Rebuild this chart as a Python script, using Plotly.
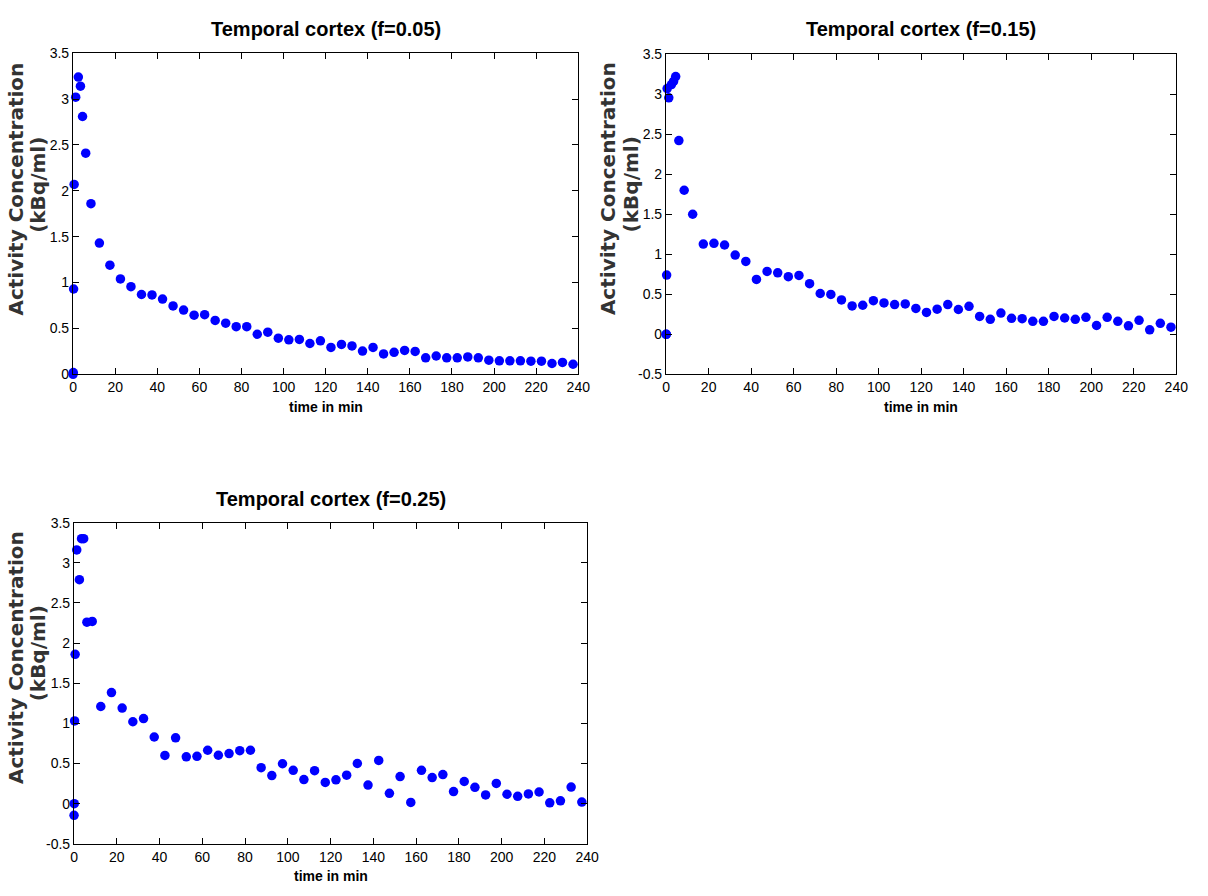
import plotly.graph_objects as go

# ---------------- data ----------------
time_min = [0, 0.1, 0.25, 0.5, 1.25, 2.5, 3.5, 4.5, 6, 8.5, 12.5,
            17.5, 22.5, 27.5, 32.5, 37.5, 42.5, 47.5, 52.5, 57.5, 62.5,
            67.5, 72.5, 77.5, 82.5, 87.5, 92.5, 97.5, 102.5, 107.5, 112.5,
            117.5, 122.5, 127.5, 132.5, 137.5, 142.5, 147.5, 152.5, 157.5, 162.5,
            167.5, 172.5, 177.5, 182.5, 187.5, 192.5, 197.5, 202.5, 207.5, 212.5,
            217.5, 222.5, 227.5, 232.5, 237.5]

conc_f005 = [0.0, 0.02, 0.93, 2.07, 3.02, 3.24, 3.14, 2.81, 2.41, 1.86, 1.43,
             1.19, 1.04, 0.955, 0.87, 0.866, 0.82, 0.745, 0.70, 0.645, 0.65,
             0.587, 0.558, 0.52, 0.52, 0.437, 0.46, 0.394, 0.376, 0.38, 0.336,
             0.365, 0.293, 0.326, 0.31, 0.254, 0.293, 0.222, 0.24, 0.26, 0.25,
             0.18, 0.20, 0.18, 0.18, 0.19, 0.18, 0.154, 0.147, 0.147, 0.147,
             0.143, 0.143, 0.118, 0.13, 0.11]

conc_f015 = [0.0, 0.0, 0.74, 3.07, 2.955, 3.12, 3.16, 3.22, 2.42, 1.80, 1.50,
             1.128, 1.137, 1.116, 0.99, 0.91, 0.686, 0.785, 0.768, 0.72, 0.735,
             0.633, 0.51, 0.498, 0.43, 0.355, 0.363, 0.42, 0.392, 0.372, 0.38,
             0.323, 0.273, 0.314, 0.372, 0.31, 0.35, 0.224, 0.187, 0.265, 0.2,
             0.196, 0.163, 0.163, 0.224, 0.204, 0.187, 0.212, 0.11, 0.212, 0.163,
             0.106, 0.175, 0.056, 0.138, 0.089]

conc_f025 = [-0.145, 0.0, 1.03, 1.86, 3.16, 2.79, 3.30, 3.30, 2.26, 2.27, 1.21,
             1.383, 1.19, 1.02, 1.06, 0.83, 0.60, 0.82, 0.583, 0.59, 0.665,
             0.603, 0.624, 0.66, 0.665, 0.448, 0.35, 0.497, 0.415, 0.30, 0.411,
             0.265, 0.297, 0.354, 0.50, 0.232, 0.538, 0.129, 0.338, 0.015, 0.415,
             0.325, 0.362, 0.15, 0.276, 0.203, 0.109, 0.252, 0.117, 0.092, 0.121,
             0.145, 0.01, 0.035, 0.207, 0.02]

panel_titles = ["Temporal cortex (f=0.05)", "Temporal cortex (f=0.15)", "Temporal cortex (f=0.25)"]
x_title = "time in min"
y_title_1 = "Activity Concentration"
y_title_2 = "(kBq/ml)"

x_tick_vals = [0, 20, 40, 60, 80, 100, 120, 140, 160, 180, 200, 220, 240]
x_tick_text = ["0", "20", "40", "60", "80", "100", "120", "140", "160", "180", "200", "220", "240"]
y_tick_vals_a = [0, 0.5, 1, 1.5, 2, 2.5, 3, 3.5]
y_tick_text_a = ["0", "0.5", "1", "1.5", "2", "2.5", "3", "3.5"]
y_tick_vals_b = [-0.5, 0, 0.5, 1, 1.5, 2, 2.5, 3, 3.5]
y_tick_text_b = ["-0.5", "0", "0.5", "1", "1.5", "2", "2.5", "3", "3.5"]

# ---------------- layout geometry (pixels) ----------------
W, H = 1208, 896
SANS = "Liberation Sans, Arial, sans-serif"
WIDE = "DejaVu Sans, Verdana, Arial, sans-serif"

panels = [
    dict(x0=70, x1=582, y0=46, y1=373, data=conc_f005, yr=[0, 3.5],
         yv=y_tick_vals_a, yt=y_tick_text_a, title_y=21, xt_y=406, yl1=12, yl2=34.5, ylc=184),
    dict(x0=671, x1=1188, y0=47, y1=373, data=conc_f015, yr=[-0.5, 3.5],
         yv=y_tick_vals_b, yt=y_tick_text_b, title_y=21, xt_y=406, yl1=611.5, yl2=635, ylc=184),
    dict(x0=71, x1=591, y0=524, y1=851, data=conc_f025, yr=[-0.5, 3.5],
         yv=y_tick_vals_b, yt=y_tick_text_b, title_y=500, xt_y=884, yl1=12, yl2=34.5, ylc=661),
]

fig = go.Figure()
annotations = []
for i, p in enumerate(panels):
    n = "" if i == 0 else str(i + 1)
    fig.add_trace(go.Scatter(
        x=time_min, y=p["data"], mode="markers",
        marker=dict(color="#0000FF", size=9.5, line=dict(width=0)),
        cliponaxis=False, showlegend=False,
        xaxis="x" + n, yaxis="y" + n,
    ))
    axis_common = dict(
        showgrid=False, zeroline=False, showline=True, linecolor="black", linewidth=1.3,
        mirror="ticks", ticks="inside", ticklen=6, tickwidth=1, tickcolor="black",
        tickfont=dict(family=SANS, size=14, color="black"),
    )
    fig.layout["xaxis" + n] = dict(
        axis_common, domain=[p["x0"] / W, p["x1"] / W], range=[0, 240],
        tickvals=x_tick_vals, ticktext=x_tick_text, anchor="y" + n,
    )
    fig.layout["yaxis" + n] = dict(
        axis_common, domain=[1 - p["y1"] / H, 1 - p["y0"] / H], range=p["yr"],
        tickvals=p["yv"], ticktext=p["yt"], anchor="x" + n,
    )
    cx = (p["x0"] + p["x1"]) / 2
    annotations.append(dict(text="<b>" + panel_titles[i] + "</b>", x=cx / W, y=1 - p["title_y"] / H,
                            xref="paper", yref="paper", showarrow=False, xanchor="center", yanchor="middle",
                            font=dict(family=SANS, size=20, color="black")))
    annotations.append(dict(text="<b>" + x_title + "</b>", x=cx / W, y=1 - p["xt_y"] / H,
                            xref="paper", yref="paper", showarrow=False, xanchor="center", yanchor="middle",
                            font=dict(family=SANS, size=14, color="black")))
    annotations.append(dict(text="<b>" + y_title_1 + "</b>", x=p["yl1"] / W, y=1 - p["ylc"] / H,
                            xref="paper", yref="paper", showarrow=False, xanchor="center", yanchor="middle",
                            textangle=-90, font=dict(family=WIDE, size=20, color="#333333")))
    annotations.append(dict(text="<b>" + y_title_2 + "</b>", x=p["yl2"] / W, y=1 - (p["ylc"] - 4) / H,
                            xref="paper", yref="paper", showarrow=False, xanchor="center", yanchor="middle",
                            textangle=-90, font=dict(family=WIDE, size=20, color="#333333")))

fig.update_layout(
    width=W, height=H, margin=dict(l=0, r=0, t=0, b=0),
    paper_bgcolor="white", plot_bgcolor="white",
    annotations=annotations,
)

fig.write_html("out.html")
